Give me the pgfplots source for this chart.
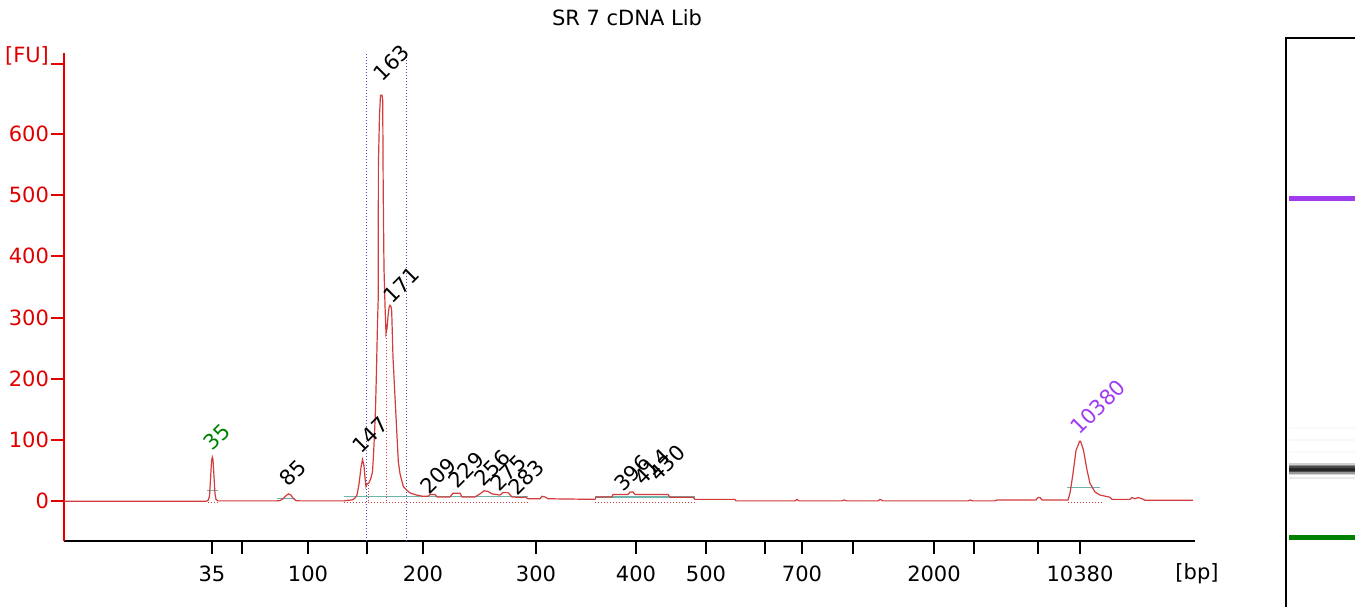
\documentclass[border=0pt]{standalone}
\usepackage{pgfplots}
\pgfplotsset{compat=1.18}
\usepackage{fontspec}
\setmainfont{DejaVu Sans}

\definecolor{trace}{RGB}{210,60,60}
\definecolor{fured}{RGB}{225,0,0}
\definecolor{teal2}{RGB}{110,180,170}
\definecolor{ladder}{RGB}{0,130,0}
\definecolor{marker}{RGB}{160,60,240}
\definecolor{bluedot}{RGB}{70,70,190}

\begin{document}
\begin{tikzpicture}
% 1 px of the reference = 0.5pt
\useasboundingbox (0,0) rectangle (677.5pt,303.5pt);

\begin{axis}[
    at={(32pt,33pt)}, anchor=south west,
    scale only axis, width=565.5pt, height=244pt,
    xmin=64, xmax=1195, ymin=-65, ymax=732,
    axis x line*=bottom, axis y line*=left,
    x axis line style={black, line width=1pt, -},
    y axis line style={fured, line width=1pt, -},
    tick align=outside, major tick length=6.5pt,
    xtick={212,242,308,367,423,536,636,706,765,802,853,934,974,1038,1080},
    xticklabels={35,,100,,200,300,400,500,,700,,2000,,,10380},
    x tick style={black, line width=1pt},
    x tick label style={black, font=\fontsize{10.5}{12}\selectfont, yshift=-2.5pt},
    ytick={0,100,200,300,400,500,600},
    extra y ticks={714}, extra y tick labels={},
    extra y tick style={tick style={fured, line width=1pt}},
    y tick style={fured, line width=1pt},
    y tick label style={fured, font=\fontsize{10.5}{12}\selectfont, xshift=2.5pt},
    /pgf/number format/assume math mode=true,
    clip=false,
]
% peak region baselines
\addplot[teal2, line width=0.6pt] coordinates {(207,17)(218,17)};
\addplot[teal2, line width=0.6pt] coordinates {(277,4)(295,4)};
\addplot[teal2, line width=0.6pt] coordinates {(344,7.7)(528,7.7)};
\addplot[teal2, line width=0.6pt] coordinates {(595,7)(695,7)};
\addplot[teal2, line width=0.6pt] coordinates {(1067,23)(1100,23)};
\addplot[trace, densely dotted, line width=0.5pt] coordinates {(208,-1.5)(218,-1.5)};
\addplot[trace, densely dotted, line width=0.5pt] coordinates {(344,-1.5)(528,-1.5)};
\addplot[trace, densely dotted, line width=0.5pt] coordinates {(595,-1.5)(695,-1.5)};
\addplot[trace, densely dotted, line width=0.5pt] coordinates {(1068,-1.5)(1102,-1.5)};
\addplot[trace, densely dotted, line width=0.5pt] coordinates {(368.3,0)(368.3,30)};
\addplot[trace, densely dotted, line width=0.5pt] coordinates {(386.7,0)(386.7,278)};
% region markers
\addplot[bluedot, densely dotted, line width=0.5pt] coordinates {(366,-65)(366,732)};
\addplot[bluedot, densely dotted, line width=0.5pt] coordinates {(406.5,-65)(406.5,732)};

% electropherogram trace (x in reference pixels, y in FU)
\addplot[trace, line width=0.6pt] coordinates {
(64,0) (206,0) (208,1) (209.5,8) (210.5,35) (211.5,65) (212.3,72) (213,68)
(214,40) (215,12) (216,3) (218,0.5) (276,0.5) (280,1) (283,4) (286,9)
(288.5,12) (291,10) (293,5) (296,1) (300,0.5) (344,0.5) (348,1.5) (352,2)
(355,5) (357,10) (359,28) (361,55) (362.5,68) (364,58) (365,38) (366,24)
(367,28) (369,30) (371,38) (372.5,48) (373.5,75) (374.5,110) (375.5,150)
(376.5,215) (377.5,290) (378.2,330) (378.4,550) (379.5,630) (380.5,663)
(382,663) (382.7,655) (383.2,510) (384,380) (385,320) (386,274) (387,282)
(388,302) (389,316) (390,320) (391,318) (391.7,310) (393,235) (395,170)
(396.7,116) (398.3,65) (400,45) (401.7,34) (403.3,24) (406.7,18) (410,13.5)
(416.7,10) (423,8) (428,8) (430,11) (435,11) (437,7) (450,7) (453,13)
(460,13) (462,7) (475,7) (480,12) (484,17) (488,16) (492,12) (500,10)
(503,14) (508,14) (512,7) (522,6) (525,7) (528,4) (540,4) (542,8) (545,7)
(548,4) (595,3) (596,7) (612,7) (613,11) (628,11) (630,15) (633,15)
(635,11) (668,11) (670,6.5) (693,6.5) (695,3) (735,3) (736,0.5) (795,0.5)
(797,3) (799,0.5) (842,0.5) (844,2) (847,0.5) (878,0.5) (880,3) (883,0.5)
(968,0.5) (970,2) (973,0.5) (995,0.5) (997,2) (1036,2) (1038,6) (1040,6)
(1042,2) (1068,2) (1070,13) (1073,45) (1076,83) (1078,91) (1079.5,98)
(1080.5,98) (1082,91) (1083.5,83) (1087,51) (1090,29) (1095,15) (1100,10)
(1110,6.5) (1112,3) (1130,3) (1132,6) (1135,4) (1138,6) (1142,4) (1145,1.6)
(1193,1.6)
};

% peak labels
\begin{scope}[every node/.style={rotate=45, font=\fontsize{10.5}{12}\selectfont, inner sep=0pt}]
\node[ladder] at (axis cs:216.7,105) {35};
\node at (axis cs:293,46) {85};
\node at (axis cs:370,108) {147};
\node at (axis cs:391.7,716) {163};
\node at (axis cs:401.7,353) {171};
\node at (axis cs:438,42) {209};
\node at (axis cs:466,51) {229};
\node at (axis cs:492,54) {256};
\node at (axis cs:508,47) {275};
\node at (axis cs:526,39) {283};
\node at (axis cs:632,46) {396};
\node at (axis cs:652,56) {414};
\node at (axis cs:667,62) {430};
\node[marker] at (axis cs:1098,154) {10380};
\end{scope}

\node[fured, font=\fontsize{10.5}{12}\selectfont] at (axis cs:27,727) {[FU]};
\node[font=\fontsize{10.5}{12}\selectfont] at (axis cs:1197,-119) {[bp]};
\node[font=\fontsize{10.5}{12}\selectfont] at (axis cs:627,789) {SR 7 cDNA Lib};
\end{axis}

% gel lane
\begin{axis}[
    at={(642.5pt,0pt)}, anchor=south west,
    scale only axis, width=57.5pt, height=303.5pt,
    xmin=1285, xmax=1400, ymin=0, ymax=607, y dir=reverse,
    hide axis, clip=false,
]
\addplot[black!2, line width=1pt] coordinates {(1289,428)(1400,428)};
\addplot[black!3, line width=1pt] coordinates {(1289,440)(1400,440)};
\addplot[black!2, line width=1pt] coordinates {(1289,452)(1400,452)};
\addplot[black!18, line width=0.8pt] coordinates {(1289,464)(1400,464)};
\addplot[black!45, line width=0.8pt] coordinates {(1289,465.5)(1400,465.5)};
\addplot[black!70, line width=0.8pt] coordinates {(1289,467)(1400,467)};
\addplot[black!85, line width=0.8pt] coordinates {(1289,468.5)(1400,468.5)};
\addplot[black!85, line width=0.8pt] coordinates {(1289,470)(1400,470)};
\addplot[black!70, line width=0.8pt] coordinates {(1289,471.5)(1400,471.5)};
\addplot[black!40, line width=0.8pt] coordinates {(1289,473)(1400,473)};
\addplot[black!15, line width=0.8pt] coordinates {(1289,474.5)(1400,474.5)};
\addplot[black!8, line width=1pt] coordinates {(1289,478)(1400,478)};
\addplot[marker, line width=2.6pt] coordinates {(1289,198.5)(1400,198.5)};
\addplot[ladder, line width=2.6pt] coordinates {(1289,537.5)(1400,537.5)};
\addplot[black, line width=1.1pt] coordinates {(1286,607)(1286,38)(1400,38)};
\end{axis}
\end{tikzpicture}
\end{document}
